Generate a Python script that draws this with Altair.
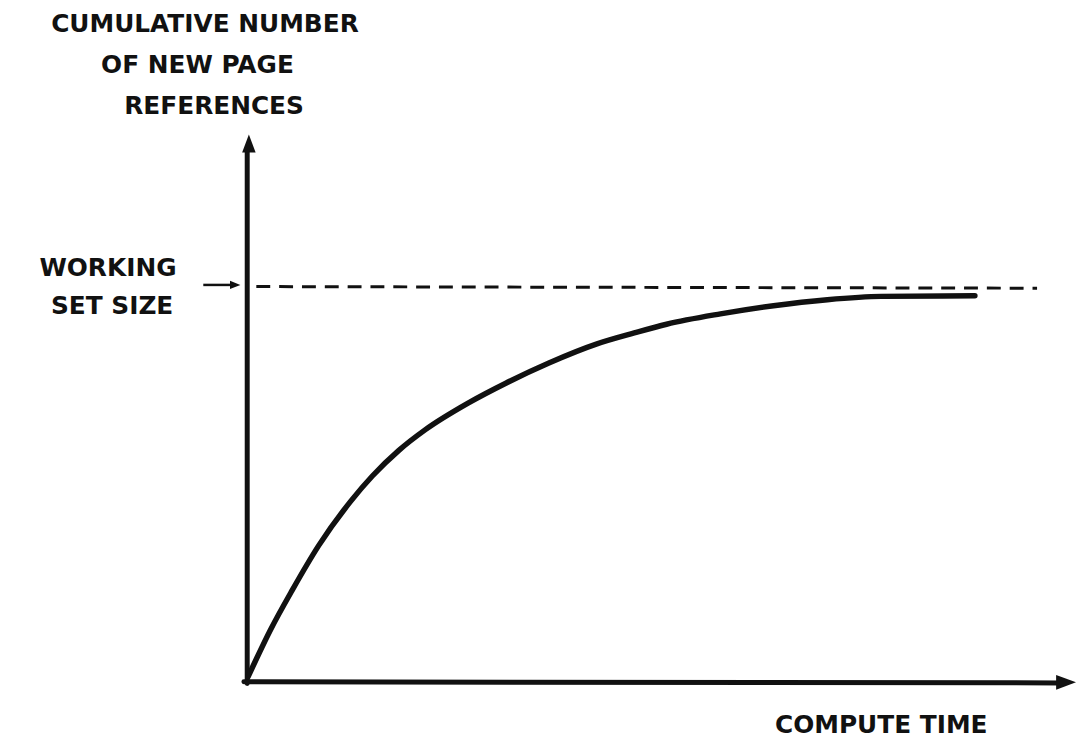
import altair as alt
import pandas as pd

# Curve: cumulative number of new page references vs compute time (arbitrary units)
compute_time = [0.1, 2.8, 5.4, 8.6, 12.5, 15.1, 18.3, 21.5, 26.7, 31.2, 36.4,
                42.2, 46.7, 50.6, 57.1, 63.5, 70.0, 76.5, 87.8]
new_page_refs = [0.7, 9.3, 16.5, 24.7, 32.9, 37.5, 42.2, 46.0, 50.9, 54.5, 58.2,
                 61.7, 63.7, 65.3, 67.2, 68.7, 69.8, 70.4, 70.5]

working_set_size = 72.2
dash_start, dash_end = 1.1, 95.3

# Label texts and their anchor positions (in data units)
label_texts = ["CUMULATIVE NUMBER", "OF NEW PAGE", "REFERENCES",
               "WORKING", "SET SIZE", "COMPUTE TIME"]
label_x = [-5.1, -6.0, -4.0, -16.8, -16.3, 76.5]
label_y = [120.2, 112.7, 105.3, 75.6, 68.7, -8.2]

INK = "#111111"
xs = alt.Scale(domain=[0, 100], nice=False, zero=False)
ys = alt.Scale(domain=[0, 100], nice=False, zero=False)


def X(f):
    return alt.X(f, type="quantitative", scale=xs, axis=None)


def Y(f):
    return alt.Y(f, type="quantitative", scale=ys, axis=None)


curve_df = pd.DataFrame({"t": compute_time, "n": new_page_refs})
curve = alt.Chart(curve_df).mark_line(
    color=INK, strokeWidth=5.5, interpolate="monotone", strokeCap="round"
).encode(x=X("t"), y=Y("n"))

dash_df = pd.DataFrame({"x": [dash_start], "x2": [dash_end],
                        "y": [working_set_size], "y2": [working_set_size - 0.3]})
dashed = alt.Chart(dash_df).mark_rule(
    color=INK, strokeWidth=3, strokeDash=[14, 9]
).encode(x=X("x"), x2="x2", y=Y("y"), y2="y2")

axes_df = pd.DataFrame({"x": [0.0, -0.4], "x2": [0.0, 98.0],
                        "y": [-0.5, -0.2], "y2": [97.0, -0.4]})
axes_lines = alt.Chart(axes_df).mark_rule(
    color=INK, strokeWidth=5, strokeCap="round"
).encode(x=X("x"), x2="x2", y=Y("y"), y2="y2")

up_head = alt.Chart(pd.DataFrame({"x": [0.2], "y": [98.4]})).mark_point(
    shape="M0,-1L0.75,1L-0.75,1Z", filled=True, color=INK, size=330, opacity=1
).encode(x=X("x"), y=Y("y"))

right_head = alt.Chart(pd.DataFrame({"x": [98.8], "y": [-0.3]})).mark_point(
    shape="M1,0L-1,-0.75L-1,0.75Z", filled=True, color=INK, size=400, opacity=1
).encode(x=X("x"), y=Y("y"))

small_arrow_df = pd.DataFrame({"x": [-5.3], "x2": [-1.5], "y": [72.5], "y2": [72.5]})
small_arrow = alt.Chart(small_arrow_df).mark_rule(
    color=INK, strokeWidth=2.5
).encode(x=X("x"), x2="x2", y=Y("y"), y2="y2")

small_head = alt.Chart(pd.DataFrame({"x": [-1.45], "y": [72.5]})).mark_point(
    shape="M1,0L-1,-0.8L-1,0.8Z", filled=True, color=INK, size=110, opacity=1
).encode(x=X("x"), y=Y("y"))

labels_df = pd.DataFrame({"text": label_texts, "x": label_x, "y": label_y})
labels = alt.Chart(labels_df).mark_text(
    font="DejaVu Sans", fontSize=25, fontWeight="bold", color=INK,
    align="center", baseline="middle"
).encode(x=X("x"), y=Y("y"), text="text:N")

chart = alt.layer(
    dashed, axes_lines, up_head, right_head, small_arrow, small_head, curve, labels
).properties(
    width=835, height=550,
    autosize=alt.AutoSizeParams(type="none"),
    padding={"left": 241, "top": 125, "right": 2, "bottom": 60},
    background="white",
).configure_view(stroke=None)

chart.save("out.html", embed_options={"renderer": "svg", "actions": False})
